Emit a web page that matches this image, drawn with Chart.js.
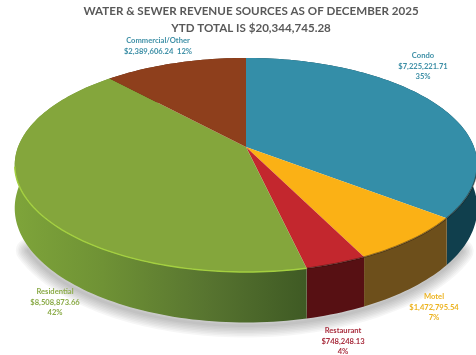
<!DOCTYPE html>
<html>
<head>
<meta charset="utf-8">
<title>Water &amp; Sewer Revenue</title>
<script src="https://cdn.jsdelivr.net/npm/chart.js@4/dist/chart.umd.min.js"></script>
<style>
    html, body { margin: 0; padding: 0; background: #fff; overflow: hidden; }
    canvas { display: block; }
</style>
</head>
<body>
<canvas id="pie-chartcanvas" width="476" height="355"></canvas>
<script>
var categories = ["Condo", "Motel", "Restaurant", "Residential", "Commercial/Other"];
var revenue = [7225221.71, 1472795.54, 748248.13, 8508873.66, 2389606.24];
var amountLabels = ["$7,225,221.71", "$1,472,795.54", "$748,248.13", "$8,508,873.66", "$2,389,606.24"];
var percentLabels = ["35%", "7%", "4%", "42%", "12%"];
var titleLines = ["WATER & SEWER REVENUE SOURCES AS OF DECEMBER 2025", "YTD TOTAL IS $20,344,745.28"];

var topColors = ["#348ea8", "#fbb115", "#c3272e", "#84a63c", "#8e3f1c"];
var wallColors = ["#103f4d", "#6d4f1b", "#571013", "#5f7f30", "#5a2710"];
var labelColors = ["#3d8fa6", "#ecb320", "#a92f3f", "#8bab48", "#3d8fa6"];

// label anchors, each line drawn centred under the previous one
var labelSpots = [[423, 56], [434, 297], [343, 331], [55, 292], [158, 41]];

// tilted disc: where the apex lands and how strong the perspective is
var disc = { x: 246, y: 147, rx: 228, ry: 104, persp: -0.168, depth: 42 };

function project(angle, r) {
    var u = Math.cos(angle) * r;
    var v = Math.sin(angle) * r;
    var w = 1 + disc.persp * v;
    return { x: disc.x + disc.rx * u / w, y: disc.y + disc.ry * v / w, drop: disc.depth / w };
}

function rimPoints(arc) {
    var pts = [];
    var steps = Math.max(8, Math.ceil((arc.endAngle - arc.startAngle) * 40));
    for (var s = 0; s <= steps; s++) {
        pts.push(project(arc.startAngle + (arc.endAngle - arc.startAngle) * s / steps, 1));
    }
    return pts;
}

function tracePrism(ctx, pts) {
    ctx.beginPath();
    pts.forEach(function (p, i) {
        if (i === 0) ctx.moveTo(p.x, p.y); else ctx.lineTo(p.x, p.y);
    });
    for (var i = pts.length - 1; i >= 0; i--) {
        ctx.lineTo(pts[i].x, pts[i].y + pts[i].drop);
    }
    ctx.closePath();
}

var tiltedPie = {
    id: "tiltedPie",
    beforeDatasetDraw: function (chart, args) {
        var ctx = chart.ctx;
        var arcs = args.meta.data;
        ctx.save();

        // soft shadow along the lower edge, built up from wide faint strokes
        ctx.save();
        ctx.translate(-1, 3);
        ctx.lineJoin = "round";
        ctx.lineCap = "round";
        ctx.strokeStyle = "rgba(0,0,0,0.035)";
        for (var width = 24; width > 0; width -= 3) {
            ctx.lineWidth = width;
            ctx.beginPath();
            var started = false;
            arcs.forEach(function (arc) {
                rimPoints(arc).forEach(function (p) {
                    if (p.y < 200) return;
                    if (!started) { ctx.moveTo(p.x, p.y + p.drop); started = true; }
                    else ctx.lineTo(p.x, p.y + p.drop);
                });
            });
            ctx.stroke();
        }
        ctx.restore();

        // side walls
        arcs.forEach(function (arc, i) {
            var fill = wallColors[i];
            if (categories[i] === "Residential") {
                fill = ctx.createLinearGradient(15, 0, 306, 0);
                fill.addColorStop(0, "#7ea43a");
                fill.addColorStop(0.3, "#6f9235");
                fill.addColorStop(0.65, "#587530");
                fill.addColorStop(1, "#3f5a24");
            }
            ctx.fillStyle = fill;
            tracePrism(ctx, rimPoints(arc));
            ctx.fill();
        });

        // top faces
        arcs.forEach(function (arc, i) {
            ctx.fillStyle = topColors[i];
            ctx.beginPath();
            ctx.moveTo(disc.x, disc.y);
            rimPoints(arc).forEach(function (p) { ctx.lineTo(p.x, p.y); });
            ctx.closePath();
            ctx.fill();
        });

        // dark bevel on the front edge, bright on the green slice
        arcs.forEach(function (arc, i) {
            var front = rimPoints(arc).filter(function (p) { return p.y > 165; });
            ctx.strokeStyle = categories[i] === "Residential" ? "#a4d040" : "rgba(30,20,10,0.45)";
            ctx.lineWidth = categories[i] === "Residential" ? 1.4 : 1.6;
            ctx.beginPath();
            front.forEach(function (p, j) {
                if (j === 0) ctx.moveTo(p.x, p.y); else ctx.lineTo(p.x, p.y);
            });
            ctx.stroke();
        });

        ctx.restore();
        return false;
    },
    afterDraw: function (chart) {
        var ctx = chart.ctx;
        ctx.save();
        ctx.font = "bold 7.6px Lato";
        ctx.textAlign = "center";
        ctx.textBaseline = "middle";
        categories.forEach(function (name, i) {
            var lines = [name, amountLabels[i], percentLabels[i]];
            // the small top slice keeps its percentage on the amount line
            if (name === "Commercial/Other") lines = [name, amountLabels[i] + "  " + percentLabels[i]];
            ctx.fillStyle = labelColors[i];
            lines.forEach(function (line, j) {
                ctx.fillText(line, labelSpots[i][0], labelSpots[i][1] + j * 10.4);
            });
        });
        ctx.restore();
    }
};

var ctx = document.getElementById("pie-chartcanvas").getContext("2d");

var chart = new Chart(ctx, {
    type: "pie",
    data: {
        labels: categories,
        datasets: [{ data: revenue, backgroundColor: topColors, borderWidth: 0 }]
    },
    options: {
        responsive: false,
        animation: false,
        layout: { padding: { left: 26, top: 3 } },
        plugins: {
            legend: { display: false },
            tooltip: { enabled: false },
            title: {
                display: true,
                position: "top",
                text: titleLines,
                color: "#595959",
                font: { family: "Lato", size: 11.6, weight: "bold", lineHeight: 1.45 },
                padding: 0
            }
        }
    },
    plugins: [tiltedPie]
});
</script>
</body>
</html>
